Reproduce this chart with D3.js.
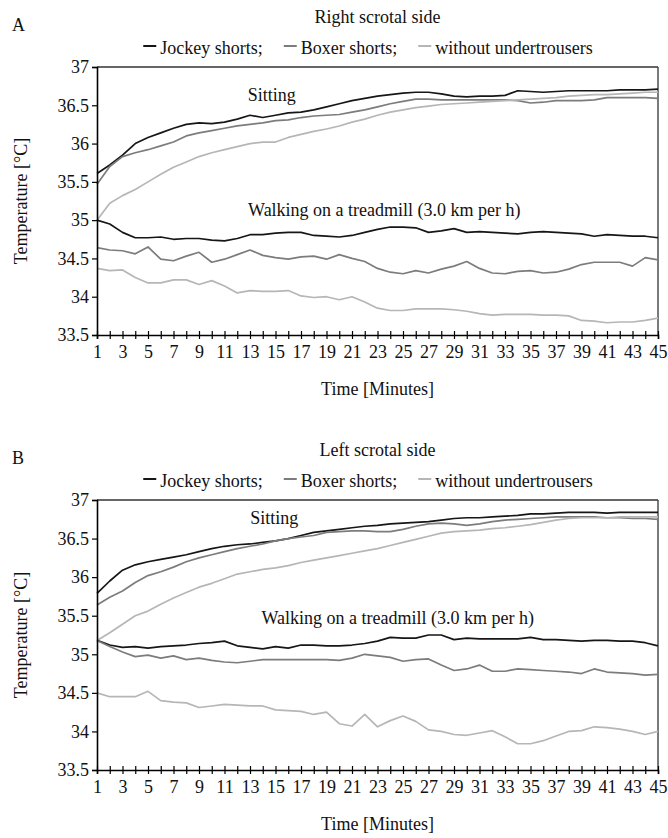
<!DOCTYPE html>
<html><head><meta charset="utf-8">
<script src="https://cdn.jsdelivr.net/npm/d3@7"></script>
<style>html,body{margin:0;padding:0;background:#fff;}svg{display:block;font-family:"Liberation Serif","Times New Roman",serif;}</style>
</head><body><svg id="c" width="668" height="838"></svg>
<script>
const minutes = d3.range(1, 46);
const yTicks = [33.5, 34, 34.5, 35, 35.5, 36, 36.5, 37];
const seriesNames = ["Jockey shorts;", "Boxer shorts;", "without undertrousers"];
const panelLetters = ["A", "B"];
const panelTitles = ["Right scrotal side", "Left scrotal side"];
const sittingLabel = "Sitting";
const walkingLabel = "Walking on a treadmill (3.0 km per h)";

// Panel A (right side)
const rightSitJockey = [35.61,35.72,35.85,36.0,36.08,36.14,36.2,36.25,36.27,36.26,36.28,36.32,36.37,36.34,36.37,36.4,36.41,36.44,36.48,36.52,36.56,36.59,36.62,36.64,36.66,36.67,36.67,36.65,36.62,36.61,36.62,36.62,36.63,36.69,36.68,36.67,36.68,36.69,36.69,36.69,36.69,36.7,36.7,36.7,36.71];
const rightSitBoxer = [35.47,35.7,35.83,35.88,35.92,35.97,36.02,36.1,36.14,36.17,36.2,36.23,36.25,36.27,36.3,36.31,36.34,36.36,36.37,36.38,36.41,36.44,36.48,36.52,36.55,36.58,36.58,36.57,36.57,36.57,36.57,36.57,36.57,36.56,36.53,36.54,36.56,36.56,36.56,36.57,36.6,36.6,36.6,36.6,36.59];
const rightSitWithout = [35.0,35.22,35.32,35.4,35.5,35.6,35.69,35.76,35.83,35.88,35.92,35.96,36.0,36.02,36.02,36.08,36.12,36.16,36.19,36.23,36.28,36.32,36.37,36.41,36.44,36.47,36.49,36.51,36.52,36.53,36.54,36.55,36.56,36.57,36.58,36.59,36.6,36.62,36.63,36.64,36.64,36.65,36.66,36.67,36.67];
const rightWalkJockey = [35.0,34.95,34.84,34.77,34.77,34.78,34.75,34.76,34.76,34.74,34.73,34.76,34.81,34.81,34.83,34.84,34.84,34.8,34.79,34.78,34.8,34.84,34.88,34.91,34.91,34.9,34.84,34.86,34.89,34.84,34.85,34.84,34.83,34.82,34.84,34.85,34.84,34.83,34.82,34.79,34.81,34.8,34.79,34.79,34.77];
const rightWalkBoxer = [34.64,34.61,34.6,34.56,34.65,34.49,34.47,34.53,34.58,34.45,34.49,34.55,34.61,34.54,34.51,34.49,34.52,34.53,34.49,34.55,34.5,34.46,34.37,34.32,34.3,34.34,34.31,34.36,34.4,34.46,34.37,34.31,34.3,34.33,34.34,34.31,34.32,34.36,34.42,34.45,34.45,34.45,34.4,34.51,34.48];
const rightWalkWithout = [34.37,34.34,34.35,34.25,34.18,34.18,34.22,34.22,34.16,34.21,34.14,34.05,34.08,34.07,34.07,34.08,34.01,33.99,34.0,33.96,34.0,33.93,33.85,33.82,33.82,33.84,33.84,33.84,33.83,33.81,33.78,33.76,33.77,33.77,33.77,33.76,33.76,33.75,33.69,33.68,33.66,33.67,33.67,33.69,33.72];

// Panel B (left side)
const leftSitJockey = [35.79,35.95,36.09,36.16,36.2,36.23,36.26,36.29,36.33,36.37,36.4,36.42,36.43,36.45,36.47,36.5,36.54,36.58,36.6,36.62,36.64,36.66,36.67,36.69,36.7,36.71,36.72,36.74,36.76,36.77,36.77,36.78,36.79,36.8,36.82,36.82,36.83,36.84,36.84,36.84,36.83,36.84,36.84,36.84,36.84];
const leftSitBoxer = [35.64,35.74,35.82,35.93,36.02,36.07,36.13,36.2,36.25,36.29,36.33,36.37,36.4,36.43,36.47,36.5,36.52,36.54,36.58,36.59,36.6,36.6,36.59,36.59,36.62,36.66,36.69,36.7,36.69,36.67,36.69,36.72,36.74,36.75,36.76,36.77,36.78,36.78,36.78,36.78,36.77,36.77,36.76,36.76,36.75];
const leftSitWithout = [35.18,35.28,35.39,35.5,35.56,35.65,35.73,35.8,35.87,35.92,35.98,36.04,36.07,36.1,36.12,36.15,36.19,36.22,36.25,36.28,36.31,36.34,36.37,36.41,36.45,36.49,36.53,36.57,36.59,36.6,36.61,36.63,36.64,36.66,36.68,36.71,36.74,36.76,36.77,36.77,36.77,36.78,36.78,36.78,36.78];
const leftWalkJockey = [35.18,35.12,35.09,35.1,35.08,35.1,35.11,35.12,35.14,35.15,35.17,35.11,35.09,35.07,35.1,35.08,35.12,35.12,35.11,35.11,35.12,35.14,35.17,35.22,35.21,35.21,35.25,35.25,35.19,35.21,35.2,35.2,35.2,35.2,35.22,35.19,35.19,35.18,35.17,35.18,35.18,35.17,35.17,35.15,35.11];
const leftWalkBoxer = [35.18,35.1,35.03,34.97,34.99,34.95,34.98,34.93,34.95,34.92,34.9,34.89,34.91,34.93,34.93,34.93,34.93,34.93,34.93,34.92,34.95,35.0,34.98,34.96,34.91,34.93,34.94,34.86,34.79,34.81,34.86,34.78,34.78,34.81,34.8,34.79,34.78,34.77,34.75,34.81,34.77,34.76,34.75,34.73,34.74];
const leftWalkWithout = [34.5,34.45,34.45,34.45,34.52,34.4,34.38,34.37,34.31,34.33,34.35,34.34,34.33,34.33,34.28,34.27,34.26,34.22,34.25,34.1,34.07,34.22,34.06,34.14,34.2,34.13,34.02,34.0,33.96,33.95,33.98,34.01,33.93,33.84,33.84,33.88,33.94,34.0,34.01,34.06,34.05,34.03,34.0,33.96,34.0];

const panelSeries = [
  [rightSitJockey, rightSitBoxer, rightSitWithout, rightWalkJockey, rightWalkBoxer, rightWalkWithout],
  [leftSitJockey, leftSitBoxer, leftSitWithout, leftWalkJockey, leftWalkBoxer, leftWalkWithout]
];
// annotation anchors in data units: [minute, temperature]
const sitAnchor = [[14.7, 36.63], [14.9, 36.77]];
const walkAnchor = [[12.85, 35.13], [13.9, 35.47]];

const colors = ["#161616", "#7c7c7c", "#b6b6b6"];
const FS = 18;
const svg = d3.select("#c");
const L = 97, R = 658;
const panels = [{top: 67, bottom: 335}, {top: 500, bottom: 770}];

panels.forEach((p, pi) => {
  const x = d3.scaleLinear().domain([1, 45]).range([L, R]);
  const y = d3.scaleLinear().domain([33.5, 37]).range([p.bottom, p.top]);
  const g = svg.append("g");

  // frame top/right
  g.append("line").attr("x1", L).attr("x2", R).attr("y1", p.top).attr("y2", p.top).attr("stroke", "#333").attr("stroke-width", 1.3);
  g.append("line").attr("x1", R).attr("x2", R).attr("y1", p.top).attr("y2", p.bottom).attr("stroke", "#333").attr("stroke-width", 1.3);

  // series
  const line = d3.line().x((d, i) => x(minutes[i])).y(d => y(d));
  panelSeries[pi].forEach((s, si) => {
    g.append("path").datum(s).attr("d", line).attr("fill", "none")
      .attr("stroke", colors[si % 3]).attr("stroke-width", 1.7).attr("stroke-linejoin", "round");
  });

  // y axis
  const ya = g.append("g").attr("transform", `translate(${L},0)`)
    .call(d3.axisLeft(y).tickValues(yTicks).tickSize(5).tickPadding(3).tickFormat(d => String(d)));
  ya.select(".domain").attr("stroke", "#000").attr("stroke-width", 1.6);
  ya.selectAll(".tick line").attr("stroke", "#000").attr("stroke-width", 1.2);
  ya.selectAll("text").attr("font-size", FS).attr("font-family", "Liberation Serif").attr("fill", "#111");

  // x axis
  const xa = g.append("g").attr("transform", `translate(0,${p.bottom})`)
    .call(d3.axisBottom(x).tickValues(minutes).tickSize(4).tickPadding(6).tickFormat(d => d % 2 === 1 ? String(d) : ""));
  xa.select(".domain").attr("stroke", "#000").attr("stroke-width", 1.6);
  xa.selectAll(".tick line").attr("y1", -4).attr("y2", 4).attr("stroke", "#000").attr("stroke-width", 1.2);
  xa.selectAll("text").attr("font-size", FS).attr("font-family", "Liberation Serif").attr("fill", "#111");

  // axis titles
  g.append("text").attr("x", (L + R) / 2).attr("y", p.bottom + 60).attr("text-anchor", "middle")
    .attr("font-size", FS).attr("fill", "#111").text("Time [Minutes]");
  g.append("text").attr("transform", `translate(27,${(p.top + p.bottom) / 2}) rotate(-90)`)
    .attr("text-anchor", "middle").attr("font-size", FS).attr("fill", "#111").text("Temperature [°C]");

  // panel letter and title
  g.append("text").attr("x", 12).attr("y", p.top - 36).attr("font-size", FS).attr("fill", "#111").text(panelLetters[pi]);
  g.append("text").attr("x", (L + R) / 2).attr("y", p.top - 44).attr("text-anchor", "middle")
    .attr("font-size", FS).attr("fill", "#111").text(panelTitles[pi]);

  // legend
  const ly = p.top - 19;
  const lg = g.append("g");
  let cx = 0;
  seriesNames.forEach((n, i) => {
    lg.append("line").attr("x1", cx).attr("x2", cx + 13).attr("y1", ly - 2).attr("y2", ly - 2)
      .attr("stroke", colors[i]).attr("stroke-width", 2);
    const t = lg.append("text").attr("x", cx + 17).attr("y", ly + 6).attr("font-size", FS).attr("fill", "#111").text(n);
    cx += 17 + t.node().getComputedTextLength() + 21;
  });
  const lw = cx - 21;
  lg.attr("transform", `translate(${368 - lw / 2},0)`);

  // annotations
  g.append("text").attr("x", x(sitAnchor[pi][0])).attr("y", y(sitAnchor[pi][1]) + 6).attr("text-anchor", "middle")
    .attr("font-size", FS).attr("fill", "#111").text(sittingLabel);
  g.append("text").attr("x", x(walkAnchor[pi][0])).attr("y", y(walkAnchor[pi][1]) + 6)
    .attr("font-size", FS).attr("fill", "#111").text(walkingLabel);
});
</script></body></html>
